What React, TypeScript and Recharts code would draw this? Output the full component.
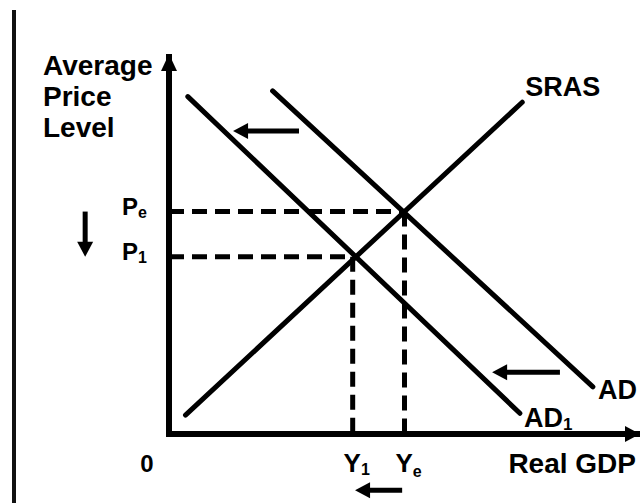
import { LineChart, Line, XAxis, YAxis, ReferenceLine, ReferenceDot } from 'recharts';

const FONT = '"Liberation Sans", Arial, Helvetica, sans-serif';
const INK = '#000';

// curves, in axis units (0-100 on both axes)
const sras = [{ x: 3.5, y: 5 }, { x: 75, y: 88 }];
const ad = [{ x: 22, y: 91 }, { x: 90, y: 12.5 }];
const ad1 = [{ x: 4, y: 89.5 }, { x: 74.5, y: 5.5 }];

// equilibrium points: Y1/P1 and Ye/Pe
const eqX = [39, 50];
const eqY = [47, 59];
const eqSub = ['1', 'e'];

// shift arrows: [fromX, fromY, toX, toY], tip at "to"
const shifts = [
    [27.6, 80.4, 13.6, 80.4],
    [83, 16.4, 68.6, 16.4],
    [49.5, -14.9, 39.5, -14.9],
    [-17.8, 59, -17.8, 47],
];

const curveLabels = ['SRAS', 'AD', 'AD'];
const curveSubs = ['', '', '1'];
const labelOffsets = [[3, -6], [5, 12], [4, 14]];

const guides = eqX.flatMap((x, i) => [
    [{ x: 0, y: eqY[i] }, { x, y: eqY[i] }],
    [{ x, y: eqY[i] }, { x, y: 0 }],
]);

const ArrowShape = (p: any) => {
    const { x1, y1, x2, y2 } = p;
    const len = Math.hypot(x2 - x1, y2 - y1) || 1;
    const ux = (x2 - x1) / len;
    const uy = (y2 - y1) / len;
    const hl = 15;
    const hw = 8;
    const bx = x2 - ux * hl;
    const by = y2 - uy * hl;
    return (
        <g>
            <line x1={x1} y1={y1} x2={bx + ux * 2} y2={by + uy * 2} stroke={INK} strokeWidth={5} />
            <polygon points={`${x2},${y2} ${bx - uy * hw},${by + ux * hw} ${bx + uy * hw},${by - ux * hw}`} fill={INK} />
        </g>
    );
};

const curveLabel = (k: number) => (p: any) => {
    if (p.index !== 1) return null;
    return (
        <text x={p.x + labelOffsets[k][0]} y={p.y + labelOffsets[k][1]} fontFamily={FONT} fontWeight={700} fontSize={27} fill={INK}>
            <tspan>{curveLabels[k]}</tspan>
            {curveSubs[k] && <tspan fontSize={17} dy={3}>{curveSubs[k]}</tspan>}
        </text>
    );
};

const PriceTick = (p: any) => {
    const i = eqY.indexOf(p.payload.value);
    return (
        <text x={p.x} y={p.y + 3} textAnchor="end" fontFamily={FONT} fontWeight={700} fontSize={24} fill={INK}>
            <tspan>P</tspan>
            <tspan fontSize={16} dy={3}>{eqSub[i]}</tspan>
        </text>
    );
};

const OutputTick = (p: any) => {
    const v = p.payload.value;
    if (v === 0) {
        return (
            <text x={p.x - 22} y={p.y} textAnchor="middle" fontFamily={FONT} fontWeight={700} fontSize={24} fill={INK}>0</text>
        );
    }
    const i = eqX.indexOf(v);
    return (
        <text x={p.x + 4} y={p.y} textAnchor="middle" fontFamily={FONT} fontWeight={700} fontSize={26} fill={INK}>
            <tspan>Y</tspan>
            <tspan fontSize={16} dy={eqSub[i] === 'e' ? 5 : 3}>{eqSub[i]}</tspan>
        </text>
    );
};

const YTitle = (p: any) => {
    const { x, y } = p.viewBox;
    const lines = ['Average', 'Price', 'Level'];
    return (
        <text fontFamily={FONT} fontWeight={700} fontSize={28} fill={INK}>
            {lines.map((l, i) => (
                <tspan key={l} x={x - 66} y={y + 18 + i * 31}>{l}</tspan>
            ))}
        </text>
    );
};

const XTitle = (p: any) => {
    const { x, y, width } = p.viewBox;
    return (
        <text x={x + width - 4} y={y + 39} textAnchor="end" fontFamily={FONT} fontWeight={700} fontSize={28} fill={INK}>
            Real GDP
        </text>
    );
};

const UpHead = (p: any) => (
    <polygon points={`${p.cx},${p.cy - 3} ${p.cx - 8},${p.cy + 14} ${p.cx + 8},${p.cy + 14}`} fill={INK} />
);
const RightHead = (p: any) => (
    <polygon points={`${p.cx},${p.cy} ${p.cx - 15},${p.cy - 8} ${p.cx - 15},${p.cy + 8}`} fill={INK} />
);

export default function App() {
    return (
        <div style={{ position: 'absolute', left: 0, top: 0, width: 640, height: 503, background: '#fff' }}>
            <div style={{ position: 'absolute', left: 12, top: 10, width: 4, height: 493, background: '#111' }} />
            <LineChart width={640} height={503} margin={{ top: 57, right: 0, bottom: 39, left: 109 }}>
                <XAxis
                    type="number"
                    dataKey="x"
                    domain={[0, 100]}
                    ticks={[0, ...eqX]}
                    interval={0}
                    allowDataOverflow
                    axisLine={{ stroke: INK, strokeWidth: 6, strokeLinecap: 'square' }}
                    tickLine={false}
                    tickSize={0}
                    tickMargin={38}
                    tick={OutputTick}
                    label={XTitle}
                />
                <YAxis
                    type="number"
                    domain={[0, 100]}
                    ticks={eqY}
                    interval={0}
                    allowDataOverflow
                    axisLine={{ stroke: INK, strokeWidth: 6, strokeLinecap: 'square' }}
                    tickLine={false}
                    tickSize={0}
                    tickMargin={22}
                    tick={PriceTick}
                    label={YTitle}
                />
                {guides.map((g, i) => (
                    <Line
                        key={'g' + i}
                        data={g}
                        dataKey="y"
                        stroke={INK}
                        strokeWidth={5}
                        strokeDasharray="15 8"
                        dot={false}
                        isAnimationActive={false}
                    />
                ))}
                {[sras, ad, ad1].map((d, k) => (
                    <Line
                        key={'c' + k}
                        data={d}
                        dataKey="y"
                        stroke={INK}
                        strokeWidth={5}
                        strokeLinecap="round"
                        dot={false}
                        label={curveLabel(k)}
                        isAnimationActive={false}
                    />
                ))}
                {shifts.map((s, i) => (
                    <ReferenceLine
                        key={'s' + i}
                        segment={[{ x: s[0], y: s[1] }, { x: s[2], y: s[3] }]}
                        ifOverflow="visible"
                        shape={ArrowShape}
                    />
                ))}
                <ReferenceDot x={0} y={100} r={0} ifOverflow="visible" shape={UpHead} />
                <ReferenceDot x={100} y={0} r={0} ifOverflow="visible" shape={RightHead} />
            </LineChart>
        </div>
    );
}
